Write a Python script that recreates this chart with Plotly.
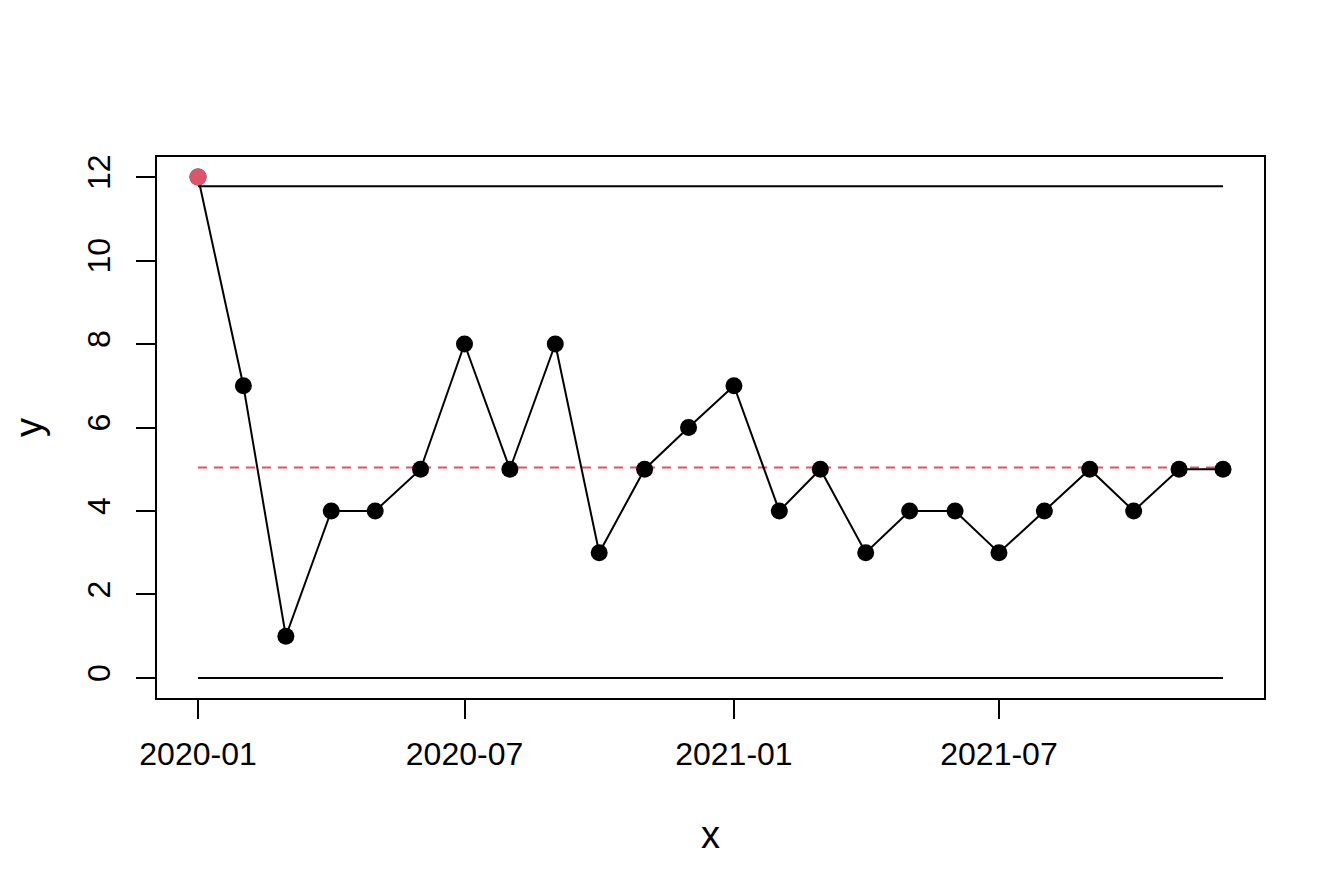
import plotly.graph_objects as go

# Data
months = ["2020-01-01", "2020-02-01", "2020-03-01", "2020-04-01", "2020-05-01", "2020-06-01",
          "2020-07-01", "2020-08-01", "2020-09-01", "2020-10-01", "2020-11-01", "2020-12-01",
          "2021-01-01", "2021-02-01", "2021-03-01", "2021-04-01", "2021-05-01", "2021-06-01",
          "2021-07-01", "2021-08-01", "2021-09-01", "2021-10-01", "2021-11-01", "2021-12-01"]
counts = [12, 7, 1, 4, 4, 5, 8, 5, 8, 3, 5, 6, 7, 4, 5, 3, 4, 4, 3, 4, 5, 4, 5, 5]
center = 5.04
ucl = 11.78
lcl = 0
out_x = ["2020-01-01"]
out_y = [12]

RED = "#DF536B"
FONT = "Liberation Sans, Arial, sans-serif"
limit_x = [months[0], months[-1]]

fig = go.Figure()

# control limits
fig.add_trace(go.Scatter(x=limit_x, y=[ucl, ucl], mode="lines",
                         line=dict(color="black", width=2), hoverinfo="skip"))
fig.add_trace(go.Scatter(x=limit_x, y=[lcl, lcl], mode="lines",
                         line=dict(color="black", width=2), hoverinfo="skip"))
# center line
fig.add_trace(go.Scatter(x=limit_x, y=[center, center], mode="lines",
                         line=dict(color=RED, width=2, dash="9px,7px"), hoverinfo="skip"))
# observed counts
fig.add_trace(go.Scatter(x=months, y=counts, mode="lines+markers",
                         line=dict(color="black", width=2),
                         marker=dict(color="black", size=17)))
# point beyond limits
fig.add_trace(go.Scatter(x=out_x, y=out_y, mode="markers",
                         marker=dict(color=RED, size=17)))

# page body adds an 8px offset, so the figure is sized to fit the window
fig.update_layout(
    width=1336, height=887,
    margin=dict(l=149, r=80, t=149, b=197),
    plot_bgcolor="white", paper_bgcolor="white",
    showlegend=False,
    font=dict(family=FONT, size=32, color="black"),
)

fig.update_xaxes(
    type="date", range=["2019-12-04", "2021-12-29"],
    tick0="2020-01-01", dtick="M6", tickformat="%Y-%m",
    showgrid=False, zeroline=False,
    showline=True, mirror=True, linecolor="black", linewidth=2,
    ticks="outside", ticklen=19, tickwidth=2, tickcolor="black",
    ticklabelstandoff=8,
    title=dict(text="x", standoff=50),
)
fig.update_yaxes(
    range=[-0.48, 12.48], tick0=0, dtick=2, tickangle=-90,
    showgrid=False, zeroline=False,
    showline=True, mirror=True, linecolor="black", linewidth=2,
    ticks="outside", ticklen=19, tickwidth=2, tickcolor="black",
    ticklabelstandoff=13,
    title=dict(text="y", standoff=30),
)

fig.write_html("out.html")
